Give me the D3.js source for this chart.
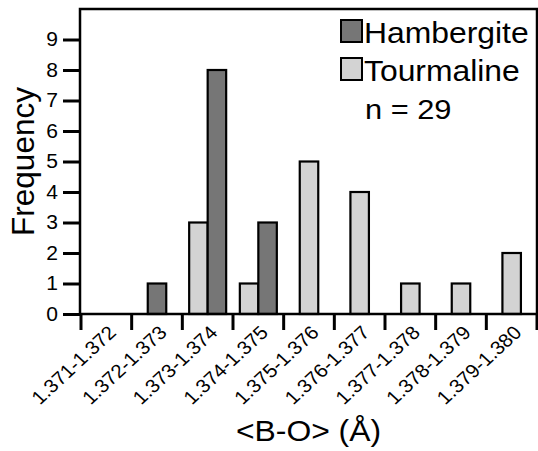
<!DOCTYPE html>
<html>
<head>
<meta charset="utf-8">
<script src="https://cdn.jsdelivr.net/npm/d3@7"></script>
<style>
  html, body { margin: 0; padding: 0; background: #fff; }
  svg { display: block; }
  text { font-family: "Liberation Sans", Arial, Helvetica, sans-serif; fill: #000; }
</style>
</head>
<body>
<svg id="chart" width="538" height="451"></svg>
<script>
const categories = ["1.371-1.372", "1.372-1.373", "1.373-1.374", "1.374-1.375", "1.375-1.376",
                    "1.376-1.377", "1.377-1.378", "1.378-1.379", "1.379-1.380"];
const hambergite = [0, 1, 8, 3, 0, 0, 0, 0, 0];
const tourmaline = [0, 0, 3, 1, 5, 4, 1, 1, 2];
const seriesNames = ["Tourmaline", "Hambergite"];   // order within a bin (left to right)
const legendNames = ["Hambergite", "Tourmaline"];
const yTicks = [0, 1, 2, 3, 4, 5, 6, 7, 8, 9];
const nLabel = "n = 29";
const xTitle = "<B-O> (Å)";
const yTitle = "Frequency";

const colors = { Hambergite: "#767676", Tourmaline: "#d3d3d3" };
const values = { Hambergite: hambergite, Tourmaline: tourmaline };
const SX = 1.08; // horizontal stretch of the lettering in the original

const svg = d3.select("#chart");
const L = 80, R = 537, T = 9, B = 314;

const x = d3.scaleBand().domain(categories).range([L + 1, R]).padding(0);
const y = d3.scaleLinear().domain([0, 10]).range([B, T]);
const barW = x.bandwidth() * 0.365;

// bars: series present in a bin sit side by side, centred in the bin
const barData = [];
categories.forEach((c, i) => {
  const present = seriesNames.filter(s => values[s][i] > 0);
  const sub = d3.scaleBand().domain(present)
    .range([x(c) + x.bandwidth() / 2 - present.length * barW / 2,
            x(c) + x.bandwidth() / 2 + present.length * barW / 2]);
  present.forEach(s => barData.push({ c, s, v: values[s][i], x0: sub(s), w: sub.bandwidth() }));
});

svg.append("g").selectAll("rect").data(barData).join("rect")
  .attr("x", d => d.x0).attr("y", d => y(d.v))
  .attr("width", d => d.w).attr("height", d => y(0) - y(d.v))
  .attr("fill", d => colors[d.s]).attr("stroke", "#000").attr("stroke-width", 2.2);

// frame
svg.append("rect").attr("x", L).attr("y", T).attr("width", R - L).attr("height", B - T)
  .attr("fill", "none").attr("stroke", "#000").attr("stroke-width", 2.5);

// y axis
const yAxis = d3.axisLeft(y).tickValues(yTicks).tickSize(17).tickPadding(5).tickFormat(d3.format("d"));
const gy = svg.append("g").attr("transform", `translate(${L},0)`).call(yAxis);
gy.select(".domain").remove();
gy.selectAll(".tick line").attr("stroke", "#000").attr("stroke-width", 3);
gy.selectAll(".tick text")
  .attr("font-size", 19.5).attr("font-family", "Liberation Sans, Arial, sans-serif")
  .attr("x", 0).attr("transform", `translate(-22,0) scale(${SX},1)`);

// x axis: ticks at bin boundaries
const boundaries = categories.map(c => x(c)).concat([x(categories[categories.length - 1]) + x.bandwidth()]);
svg.append("g").selectAll("line").data(boundaries).join("line")
  .attr("x1", d => d).attr("x2", d => d).attr("y1", B).attr("y2", B + 16)
  .attr("stroke", "#000").attr("stroke-width", 3);

const xAxis = d3.axisBottom(x).tickSize(0).tickPadding(0);
const gx = svg.append("g").attr("transform", `translate(0,${B})`).call(xAxis);
gx.select(".domain").remove();
gx.selectAll(".tick text")
  .attr("font-size", 19).attr("font-family", "Liberation Sans, Arial, sans-serif")
  .attr("text-anchor", "end").attr("y", 0).attr("dy", "0.35em")
  .attr("transform", `translate(6,15) scale(${SX},1) rotate(-45)`);

// axis titles
svg.append("text").attr("transform", `translate(${(L + R) / 2},441) scale(${SX},1)`)
  .attr("text-anchor", "middle").attr("font-size", 29.5).text(xTitle);
svg.append("text").attr("transform", `translate(33.5,${(T + B) / 2}) rotate(-90)`)
  .attr("text-anchor", "middle").attr("font-size", 31.5).text(yTitle);

// legend
const lg = svg.append("g");
legendNames.forEach((s, i) => {
  const yy = 20 + i * 38;
  lg.append("rect").attr("x", 341).attr("y", yy).attr("width", 21).attr("height", 22)
    .attr("fill", colors[s]).attr("stroke", "#000").attr("stroke-width", 2);
  lg.append("text").attr("transform", `translate(364,${yy + 22.5}) scale(${SX},1)`)
    .attr("font-size", 29.5).text(s);
});
lg.append("text").attr("transform", `translate(365,119) scale(${SX},1)`)
  .attr("font-size", 28.5).text(nLabel);
</script>
</body>
</html>
